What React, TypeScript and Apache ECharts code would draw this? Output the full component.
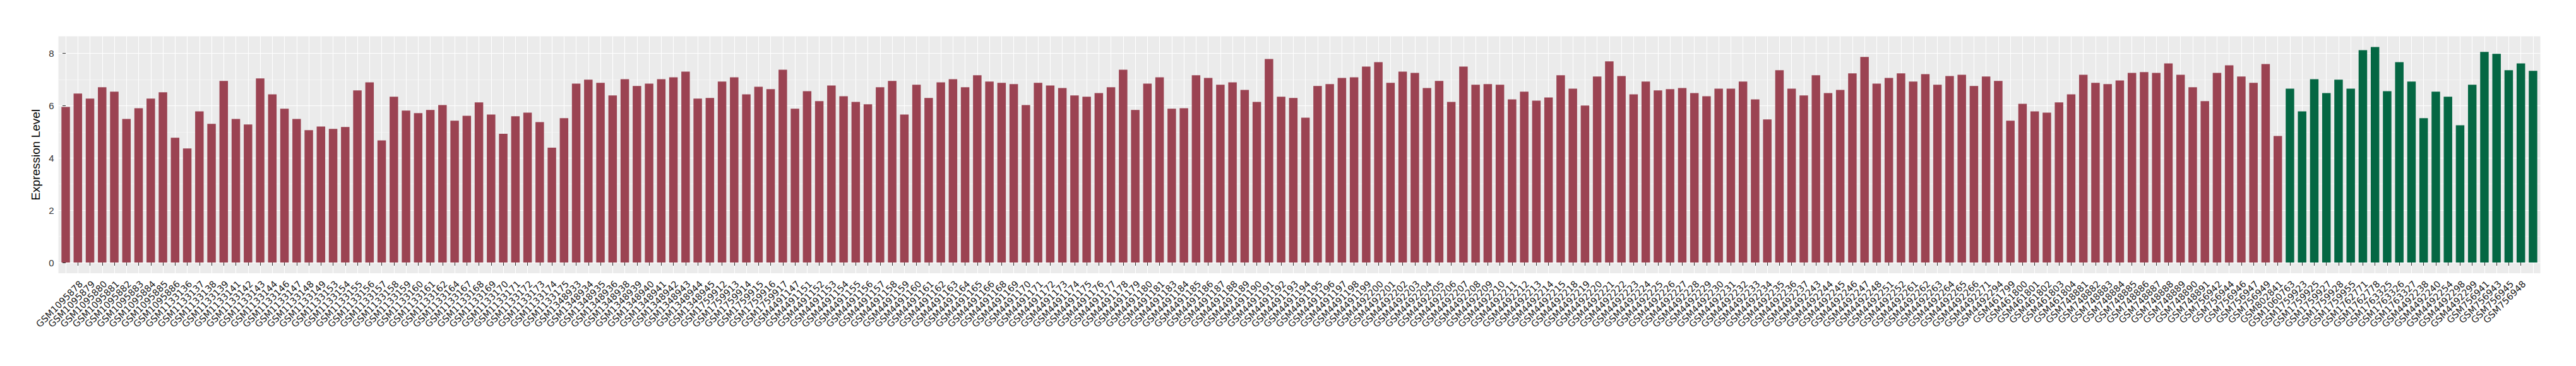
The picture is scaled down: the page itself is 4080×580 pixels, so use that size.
import React, { useEffect, useRef } from "react";
import * as echarts from "echarts";

const redSamples: string[] = [
  "GSM1095877","GSM1095878","GSM1095879","GSM1095880","GSM1095881","GSM1095882","GSM1095883","GSM1095884","GSM1095885","GSM1095886",
  "GSM1133136","GSM1133137","GSM1133138","GSM1133139","GSM1133141","GSM1133142","GSM1133143","GSM1133144","GSM1133146","GSM1133147",
  "GSM1133148","GSM1133149","GSM1133153","GSM1133154","GSM1133155","GSM1133156","GSM1133157","GSM1133158","GSM1133159","GSM1133160",
  "GSM1133161","GSM1133162","GSM1133164","GSM1133167","GSM1133168","GSM1133169","GSM1133170","GSM1133171","GSM1133172","GSM1133173",
  "GSM1133174","GSM1133175",
  "GSM1348933","GSM1348934","GSM1348935","GSM1348936","GSM1348938","GSM1348939","GSM1348940","GSM1348941","GSM1348942","GSM1348943",
  "GSM1348944","GSM1348945",
  "GSM1759912","GSM1759913","GSM1759914","GSM1759915","GSM1759916","GSM1759917",
  "GSM4491147","GSM4491151","GSM4491152","GSM4491153","GSM4491154","GSM4491155","GSM4491156","GSM4491157","GSM4491158","GSM4491159",
  "GSM4491160","GSM4491161","GSM4491162","GSM4491163","GSM4491164","GSM4491165","GSM4491166","GSM4491168","GSM4491169","GSM4491170",
  "GSM4491171","GSM4491172","GSM4491173","GSM4491174","GSM4491175","GSM4491176","GSM4491177","GSM4491178","GSM4491179","GSM4491180",
  "GSM4491181","GSM4491183","GSM4491184","GSM4491185","GSM4491186","GSM4491187","GSM4491188","GSM4491189","GSM4491190","GSM4491191",
  "GSM4491192","GSM4491193","GSM4491194","GSM4491195","GSM4491196","GSM4491197","GSM4491198","GSM4491199",
  "GSM4492200","GSM4492201","GSM4492202","GSM4492203","GSM4492204","GSM4492205","GSM4492206","GSM4492207","GSM4492208","GSM4492209",
  "GSM4492210","GSM4492211","GSM4492212","GSM4492213","GSM4492214","GSM4492215","GSM4492218","GSM4492219","GSM4492220","GSM4492221",
  "GSM4492222","GSM4492223","GSM4492224","GSM4492225","GSM4492226","GSM4492227","GSM4492228","GSM4492229","GSM4492230","GSM4492231",
  "GSM4492232","GSM4492233","GSM4492234","GSM4492235","GSM4492236","GSM4492237","GSM4492243","GSM4492244","GSM4492245","GSM4492246",
  "GSM4492247","GSM4492248","GSM4492251","GSM4492252","GSM4492261","GSM4492262","GSM4492263","GSM4492264","GSM4492265","GSM4492266",
  "GSM4492271","GSM4492294",
  "GSM461799","GSM461800","GSM461801","GSM461802","GSM461803","GSM461804",
  "GSM748881","GSM748882","GSM748883","GSM748884","GSM748885","GSM748886","GSM748887","GSM748888","GSM748889","GSM748890","GSM748891",
  "GSM756942","GSM756944","GSM756946","GSM756947","GSM756949",
  "GSM802841",
];

const redValues: number[] = [
  5.95, 6.46, 6.27, 6.70, 6.53, 5.49, 5.90, 6.27, 6.51, 4.77,
  4.36, 5.78, 5.30, 6.94, 5.49, 5.28, 7.04, 6.43, 5.88, 5.49,
  5.06, 5.20, 5.11, 5.18, 6.58, 6.89, 4.67, 6.34, 5.81, 5.71,
  5.83, 6.02, 5.42, 5.61, 6.12, 5.66, 4.92, 5.59, 5.73, 5.37,
  4.39, 5.52, 6.84, 6.99, 6.87, 6.39, 7.01, 6.75, 6.84, 7.01,
  7.08, 7.30, 6.27, 6.29, 6.92, 7.08, 6.43, 6.72, 6.63, 7.37,
  5.88, 6.55, 6.17, 6.77, 6.36, 6.14, 6.05, 6.70,
  6.94, 5.66, 6.80, 6.29, 6.89, 7.01, 6.70, 7.16, 6.92, 6.87,
  6.82, 6.02, 6.87, 6.77, 6.67, 6.39, 6.34, 6.48, 6.70, 7.37,
  5.83, 6.84, 7.08, 5.88, 5.90, 7.16, 7.06, 6.80, 6.89, 6.60,
  6.14, 7.78, 6.34, 6.29, 5.54, 6.75, 6.82, 7.06, 7.08, 7.49,
  7.66, 6.87, 7.30, 7.25, 6.67, 6.94, 6.14, 7.49, 6.80, 6.82,
  6.80, 6.24, 6.53, 6.19, 6.31, 7.16, 6.65, 6.00, 7.11, 7.69,
  7.13, 6.43, 6.92, 6.58, 6.63, 6.67, 6.48, 6.36,
  6.65, 6.65, 6.92, 6.24, 5.47, 7.35, 6.65, 6.39, 7.16, 6.48,
  6.60, 7.23, 7.86, 6.84, 7.06, 7.23, 6.92, 7.20, 6.80, 7.13,
  7.18, 6.75, 7.11, 6.94, 5.42, 6.07, 5.78, 5.73, 6.12, 6.43,
  7.18, 6.87, 6.82, 6.96, 7.25, 7.28, 7.25, 7.61, 7.18, 6.70,
  6.17, 7.25, 7.54, 7.11, 6.87, 7.59, 4.84,
];

const greenSamples: string[] = [
  "GSM1060763","GSM1759923","GSM1759925","GSM1759927","GSM1759928","GSM1759955","GSM1762771","GSM1762778",
  "GSM1763325","GSM1763326","GSM1763327","GSM4492238","GSM4492240","GSM4492254","GSM4492298","GSM4492299",
  "GSM756941","GSM756943","GSM756945","GSM756948","GSM756950",
];

const greenValues: number[] = [
  6.65, 5.78, 7.01, 6.48, 6.99, 6.65, 8.12, 8.24, 6.55, 7.66,
  6.92, 5.52, 6.53, 6.34, 5.25, 6.80, 8.05, 7.98, 7.35, 7.61, 7.33,
];

const yTickValues: number[] = [0, 2, 4, 6, 8];

const RED = "#9B4352";
const GREEN = "#046743";

export default function App() {
  const ref = useRef<HTMLDivElement>(null);

  useEffect(() => {
    if (!ref.current) return;
    const chart = echarts.init(ref.current, null, { renderer: "svg" });
    const samples = [...redSamples, ...greenSamples];
    const idx = samples.map((_, i) => i);
    const redData = redValues.map((v, i) => [i, v]);
    const greenData = greenValues.map((v, j) => [redValues.length + j, v]);
    const maxV = Math.max(...redValues, ...greenValues);
    const yMin = -0.05 * maxV;
    const yMax = 1.05 * maxV;

    chart.setOption({
      animation: false,
      backgroundColor: "#FFFFFF",
      grid: {
        left: 92.5,
        right: 56.5,
        top: 57.4,
        bottom: 146.9,
        show: true,
        backgroundColor: "#EBEBEB",
        borderWidth: 0,
      },
      xAxis: {
        type: "value",
        min: -0.6,
        max: samples.length - 1 + 0.6,
        axisLine: { show: false },
        axisTick: {
          show: true,
          length: 5,
          customValues: idx,
          lineStyle: { color: "#333333", width: 1 },
        },
        axisLabel: {
          customValues: idx,
          formatter: (v: number) => samples[Math.round(v)] ?? "",
          rotate: 45,
          fontSize: 14.5,
          color: "#1A1A1A",
          fontFamily: "DejaVu Sans",
          margin: 9,
          align: "right",
          verticalAlign: "top",
          hideOverlap: false,
        },
        splitLine: { show: true, lineStyle: { color: "#FFFFFF", width: 1.1 } },
      },
      yAxis: {
        type: "value",
        min: yMin,
        max: yMax,
        splitNumber: 5,
        name: "Expression Level",
        nameLocation: "middle",
        nameGap: 21,
        nameTextStyle: { fontSize: 19, color: "#000000", fontFamily: "Liberation Sans" },
        axisLine: { show: false },
        axisTick: {
          show: true,
          length: 5,
          customValues: yTickValues,
          lineStyle: { color: "#333333", width: 1 },
        },
        axisLabel: {
          customValues: yTickValues,
          fontSize: 15,
          color: "#333333",
          fontFamily: "Liberation Sans",
          margin: 7,
        },
        splitLine: { show: true, lineStyle: { color: "#FFFFFF", width: 1.2 } },
        minorTick: { show: false, splitNumber: 2 },
        minorSplitLine: { show: true, lineStyle: { color: "#F7F7F7", width: 0.7 } },
      },
      series: [
        {
          type: "bar",
          data: redData,
          barWidth: "70%",
          barGap: "-100%",
          itemStyle: { color: RED },
        },
        {
          type: "bar",
          data: greenData,
          barWidth: "70%",
          barGap: "-100%",
          itemStyle: { color: GREEN },
        },
      ],
    });

    return () => chart.dispose();
  }, []);

  return (
    <div
      ref={ref}
      style={{ position: "absolute", left: 0, top: 0, width: 4080, height: 580 }}
    />
  );
}
